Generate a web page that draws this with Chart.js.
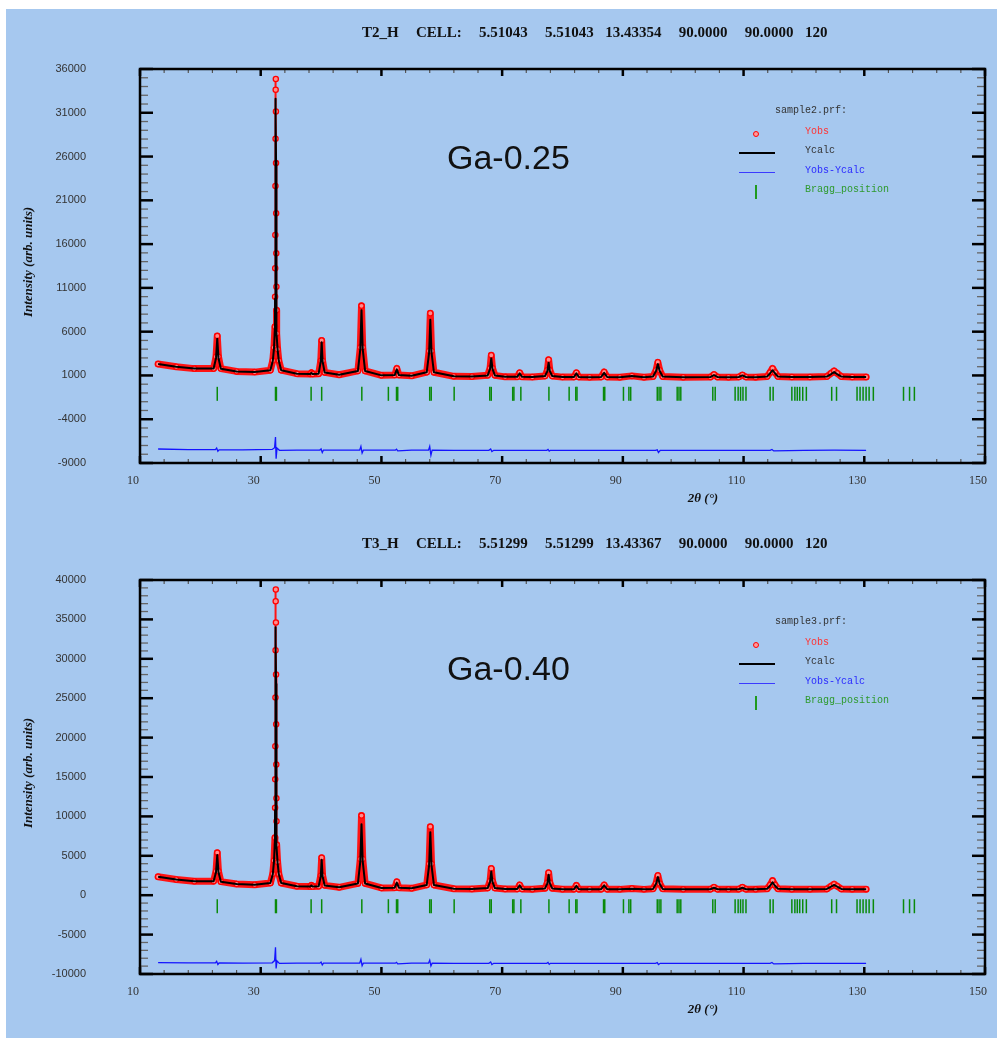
<!DOCTYPE html>
<html><head><meta charset="utf-8">
<script src="https://cdn.jsdelivr.net/npm/chart.js@4.4.0/dist/chart.umd.min.js"></script>
<style>
html,body{margin:0;padding:0;background:#fff;width:1004px;height:1043px;overflow:hidden;position:relative}
#bg{position:absolute;left:6px;top:9px;width:991px;height:1029px;background:#A6C8EF}
canvas{position:absolute;left:0}
.t{position:absolute;white-space:pre;line-height:1}
.title{font:bold 15px "Liberation Serif";color:#111;word-spacing:2px}
.ytitle{font:bold italic 13px "Liberation Serif";color:#111;transform:translate(-50%,-50%) rotate(-90deg)}
.xtitle{font:bold italic 13px "Liberation Serif";color:#111;transform:translate(-50%,-50%)}
.ga{font:34px "Liberation Sans";color:#111}
.lg{font:10px "Liberation Mono";}
.mk{position:absolute}
</style></head><body>
<div id="bg"></div>
<canvas id="c1" width="1004" height="512" style="top:0px"></canvas>
<canvas id="c2" width="1004" height="512" style="top:511px"></canvas>
<div id="overlay"></div>
<script>
// ---------- DATA ----------
const twoTheta = [13,16,19,22.2,22.6,22.8,23.0,23.4,26,29,
  31.6,32.0,32.2,32.36,32.38,32.40,32.42,32.44,32.46,32.48,32.50,32.52,32.54,32.56,32.58,32.60,32.62,32.64,32.8,33.0,33.4,36,
  38.2,38.4,38.6,39.6,39.95,40.1,40.25,40.6,43,46.1,
  46.5,46.7,46.9,47.3,50,52.2,52.55,52.9,55,57.5,
  57.9,58.1,58.3,58.7,62,65,67.6,68.0,68.2,68.4,
  68.8,70.5,72.5,72.9,73.3,75,77.1,77.5,77.7,77.9,
  78.3,80,81.9,82.3,82.7,84.5,86.4,86.9,87.4,89.5,
  91.5,93.5,95.0,95.5,95.8,96.1,96.6,100,104.5,105.1,
  105.7,107.5,109.2,109.8,110.4,112,113.9,114.4,114.8,115.2,
  115.7,118,121,123.8,124.5,125.0,125.5,126.2,128,130.3];

const yObsGa025 = [2300,2000,1780,1800,3140,5500,3140,1780,1460,1380,
  1600,2700,4200,6550,9990,13240,17040,22650,28030,33630,34860,31150,25250,19530,14950,11130,8460,5800,4000,2700,1600,1200,
  1160,1300,1160,1200,2670,5000,2670,1350,1080,1520,
  4210,8950,4210,1520,1010,1040,1800,1040,960,1370,
  3800,8100,3800,1370,900,880,1010,1840,3300,1840,
  1010,840,840,1300,840,820,935,1610,2800,1610,
  935,810,820,1300,820,800,820,1400,820,795,
  950,795,880,1600,2500,1600,880,795,810,1100,
  810,800,820,1050,820,805,880,1350,1800,1350,
  880,815,820,880,1250,1520,1250,880,830,830];

const yCalcGa025 = [2300,2000,1780,1790,3000,5200,3000,1770,1460,1380,
  1600,2650,4100,6500,9800,13500,17500,22500,27500,31500,32600,30500,25500,20000,15000,11000,8300,5900,3950,2650,1600,1200,
  1160,1280,1160,1200,2600,4800,2600,1340,1080,1500,
  4000,8450,4000,1500,1010,1040,1700,1040,960,1360,
  3600,7350,3600,1360,900,880,1000,1750,2950,1750,
  1000,840,840,1250,840,820,930,1500,2450,1500,
  930,810,820,1250,820,800,820,1300,820,795,
  930,795,875,1500,2300,1500,875,795,810,1050,
  810,800,820,1000,820,805,870,1250,1600,1250,
  870,815,820,870,1150,1380,1150,870,830,830];

const yObsGa040 = [2350,2000,1760,1780,3050,5400,3050,1720,1420,1330,
  1550,2700,4400,7300,11100,14700,18900,25100,31100,37300,38800,34600,28000,21700,16600,12300,9400,6400,4200,2700,1550,1130,
  1090,1250,1090,1120,2500,4750,2500,1250,1000,1500,
  4600,10100,4600,1500,920,950,1700,950,870,1300,
  4000,8700,4000,1300,820,800,920,1800,3400,1800,
  920,780,780,1300,780,760,870,1600,2850,1600,
  870,750,760,1250,760,750,760,1300,760,740,
  850,740,810,1500,2500,1500,810,740,750,1000,
  750,740,760,1000,760,745,820,1300,1850,1300,
  820,750,755,800,1150,1400,1150,800,770,770];

const yCalcGa040 = [2350,2000,1760,1770,2950,5100,2950,1710,1420,1330,
  1550,2650,4300,7100,10800,14800,19000,24500,29500,33000,34000,32000,26800,21000,15800,11600,8800,6300,4100,2650,1550,1130,
  1090,1230,1090,1120,2400,4500,2400,1240,1000,1480,
  4300,9000,4300,1480,920,950,1600,950,870,1290,
  3800,8000,3800,1290,820,800,910,1700,3000,1700,
  910,780,780,1250,780,760,860,1500,2600,1500,
  860,750,760,1200,760,750,760,1250,760,740,
  830,740,800,1450,2300,1450,800,740,750,950,
  750,740,760,950,760,745,810,1200,1650,1200,
  810,750,755,790,1100,1300,1100,790,770,770];

const diffTheta = [13,18,22.5,22.7,22.9,23.1,27,
  31.9,32.3,32.45,32.55,32.7,33.1,36,
  39.8,40.0,40.2,40.4,44,
  46.4,46.6,46.8,47.0,50,
  52.3,52.5,52.7,55,
  57.8,58.0,58.2,58.4,62,
  67.8,68.1,68.3,68.6,72,
  77.4,77.6,77.8,78.0,85,
  95.4,95.7,95.9,96.2,105,
  114.4,114.7,115.0,120,125,130.3];
const diffGa025 = [-7400,-7480,-7480,-7300,-7650,-7490,-7500,
  -7450,-7250,-6030,-8500,-7300,-7550,-7520,
  -7520,-7400,-7800,-7520,-7530,
  -7530,-7100,-7860,-7530,-7540,
  -7540,-7420,-7620,-7540,
  -7540,-7100,-8120,-7540,-7550,
  -7550,-7400,-7700,-7550,-7550,
  -7550,-7450,-7650,-7550,-7550,
  -7550,-7500,-7800,-7550,-7550,
  -7550,-7450,-7620,-7550,-7540,-7550];
const diffGa040 = [-8550,-8600,-8600,-8400,-8780,-8600,-8620,
  -8580,-8300,-6600,-9300,-8350,-8650,-8620,
  -8620,-8480,-8850,-8620,-8620,
  -8620,-8150,-8950,-8620,-8630,
  -8630,-8520,-8720,-8630,
  -8630,-8250,-8980,-8630,-8640,
  -8640,-8480,-8800,-8640,-8640,
  -8640,-8520,-8760,-8640,-8640,
  -8640,-8560,-8800,-8640,-8640,
  -8640,-8540,-8720,-8640,-8640,-8640];

const braggPositions = [22.8,32.45,32.6,38.35,40.1,46.75,51.15,52.5,52.7,58.0,58.25,62.05,67.95,68.2,71.75,71.95,73.1,77.75,81.1,82.2,82.4,86.8,87.0,90.1,91.0,91.3,95.7,96.0,96.3,99.0,99.3,99.6,104.9,105.3,108.6,109.1,109.5,109.9,110.4,114.4,114.9,118.0,118.5,118.9,119.3,119.8,120.4,124.6,125.4,128.8,129.3,129.8,130.3,130.8,131.5,136.5,137.5,138.3];
const braggLevelGa025 = -1100;
const braggLevelGa040 = -1400;

const xTickValues = [10,30,50,70,90,110,130,150];
const yTicksGa025 = [-9000,-4000,1000,6000,11000,16000,21000,26000,31000,36000];
const yTicksGa040 = [-10000,-5000,0,5000,10000,15000,20000,25000,30000,35000,40000];

const titleGa025 = "T2_H   CELL:   5.51043   5.51043  13.43354   90.0000   90.0000  120";
const titleGa040 = "T3_H   CELL:   5.51299   5.51299  13.43367   90.0000   90.0000  120";

// ---------- PLUGIN: frame + inward ticks ----------
const frameTicks = {
  id: 'frameTicks',
  afterDatasetsDraw(chart, args, o) {
    const {ctx, chartArea: a, scales: {x, y}} = chart;
    ctx.save();
    const seg = (x1, y1, x2, y2, w, c) => { ctx.beginPath(); ctx.moveTo(x1, y1); ctx.lineTo(x2, y2); ctx.lineWidth = w; ctx.strokeStyle = c; ctx.stroke(); };
    const isMajor = (v, base, step) => { const r = (v - base) / step; return Math.abs(r - Math.round(r)) < 1e-6; };
    for (let v = x.min; v <= x.max + 1e-9; v += o.xMinor) {
      const p = x.getPixelForValue(v);
      const m = isMajor(v, x.min, o.xMajor);
      const L = m ? 7 : 4;
      seg(p, a.bottom, p, a.bottom - L, m ? 2.5 : 1.2, m ? '#000' : '#555');
      seg(p, a.top, p, a.top + L, m ? 2.5 : 1.2, m ? '#000' : '#555');
    }
    for (let v = y.min; v <= y.max + 1e-9; v += o.yMinor) {
      const p = y.getPixelForValue(v);
      const m = isMajor(v, y.min, o.yMajor);
      const L = m ? 13 : 8;
      seg(a.left, p, a.left + L, p, m ? 2.5 : 1.3, m ? '#000' : '#666');
      seg(a.right, p, a.right - L, p, m ? 2.5 : 1.3, m ? '#000' : '#666');
    }
    ctx.lineWidth = 2.5; ctx.strokeStyle = '#000';
    ctx.strokeRect(a.left, a.top, a.right - a.left, a.bottom - a.top);
    ctx.restore();
  }
};

function makeChart(id, yObs, yCalc, diff, braggLevel, yTicks) {
  const toXY = (xs, ys) => xs.map((v, i) => ({x: v, y: ys[i]}));
  const steep = c => c.p0.parsed.y > 6000 && c.p1.parsed.y > 6000;
  return new Chart(document.getElementById(id), {
    type: 'scatter',
    data: { datasets: [
      {label: 'Ycalc', data: toXY(twoTheta, yCalc), showLine: true, borderColor: '#000', borderWidth: 2, pointRadius: 0, borderJoinStyle: 'round'},
      {label: 'Yobs', data: toXY(twoTheta, yObs), showLine: true, borderColor: '#ff1414', borderWidth: 7, borderJoinStyle: 'round', borderCapStyle: 'round',
        segment: {borderWidth: c => steep(c) ? 2 : undefined},
        pointRadius: 2.6, pointBorderColor: '#ff0000', pointBackgroundColor: '#ff8c8c', pointBorderWidth: 1.3},
      {label: 'Yobs-Ycalc', data: toXY(diffTheta, diff), showLine: true, borderColor: '#1414ff', borderWidth: 1.3, pointRadius: 0},
      {label: 'Bragg_position', data: braggPositions.map(p => ({x: p, y: braggLevel})), showLine: false,
        pointStyle: 'line', pointRotation: 90, pointRadius: 7, pointBorderColor: '#0a8a0a', pointBorderWidth: 1.5}
    ]},
    options: {
      responsive: false, animation: false, devicePixelRatio: 1, events: [],
      layout: {padding: {top: 69, right: 19, bottom: 0, left: 0}},
      plugins: {legend: {display: false}, tooltip: {enabled: false},
        frameTicks: {xMinor: 4, xMajor: 20, yMinor: 1000, yMajor: 5000}},
      scales: {
        x: {type: 'linear', min: 10, max: 150,
          afterBuildTicks: s => { s.ticks = xTickValues.map(v => ({value: v})); },
          afterFit: s => { s.height = 49; s.paddingLeft = 0; s.paddingRight = 0; },
          grid: {display: false, drawTicks: false}, border: {display: false},
          ticks: {font: {family: 'Liberation Serif', size: 12}, color: '#333', padding: 11, labelOffset: -7, maxRotation: 0}},
        y: {type: 'linear', min: yTicks[0], max: yTicks[yTicks.length - 1],
          afterBuildTicks: s => { s.ticks = yTicks.map(v => ({value: v})); },
          afterFit: s => { s.width = 140; s.paddingTop = 0; s.paddingBottom = 0; },
          grid: {display: false, drawTicks: false}, border: {display: false},
          ticks: {font: {family: 'Liberation Sans', size: 11}, color: '#333', padding: 54, callback: v => String(v)}}
      }
    },
    plugins: [frameTicks]
  });
}

makeChart('c1', yObsGa025, yCalcGa025, diffGa025, braggLevelGa025, yTicksGa025);
makeChart('c2', yObsGa040, yCalcGa040, diffGa040, braggLevelGa040, yTicksGa040);

// ---------- TEXT OVERLAYS ----------
const ov = document.getElementById('overlay');
function txt(s, cls, left, top, color) {
  const d = document.createElement('div');
  d.className = 't ' + cls; d.textContent = s;
  d.style.left = left + 'px'; d.style.top = top + 'px';
  if (color) d.style.color = color;
  ov.appendChild(d); return d;
}
function mark(left, top, w, h, css) {
  const d = document.createElement('div');
  d.className = 'mk'; d.style.cssText += `left:${left}px;top:${top}px;width:${w}px;height:${h}px;` + css;
  ov.appendChild(d);
}
function panel(off, title, sample, ga) {
  txt(title, 'title', 362, 24 + off);
  txt('Intensity (arb. units)', 'ytitle', 28, 262 + off);
  txt('2\u03b8 (\u00b0)', 'xtitle', 703, 498 + off);
  txt(ga, 'ga', 447, 138 + off);
  txt(sample, 'lg', 775, 105 + off, '#333');
  mark(752.5, 130.5 + off, 4, 4, 'border:1.3px solid #ff0000;border-radius:50%;background:#ff9a9a;');
  txt('Yobs', 'lg', 805, 126 + off, '#ff3333');
  mark(739, 151.5 + off, 36, 2, 'background:#000;');
  txt('Ycalc', 'lg', 805, 145 + off, '#333');
  mark(739, 171.5 + off, 36, 1.2, 'background:#3a3aff;');
  txt('Yobs-Ycalc', 'lg', 805, 165 + off, '#2a2aff');
  mark(755.3, 185 + off, 1.5, 14, 'background:#1f9a1f;');
  txt('Bragg_position', 'lg', 805, 184 + off, '#2e9a2e');
}
panel(0, titleGa025, 'sample2.prf:', 'Ga-0.25');
panel(511.4, titleGa040, 'sample3.prf:', 'Ga-0.40');
</script>
</body></html>
